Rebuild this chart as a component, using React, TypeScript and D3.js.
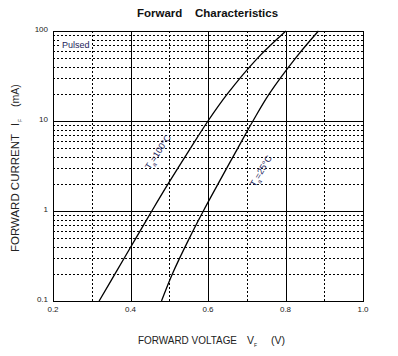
import React from "react";
import * as d3 from "d3";

const W = 398;
const H = 356;

const xTicks = [0.2, 0.4, 0.6, 0.8, 1.0];
const xMinorTicks = [0.3, 0.5, 0.7, 0.9];
const yTicks = [0.1, 1, 10, 100];
const yTickLabels = ["0.1", "1", "10", "100"];
const yMinorMultipliers = [2, 3, 4, 5, 6, 7, 8, 9];

const v100 = [0.319, 0.36, 0.414, 0.455, 0.497, 0.555, 0.6, 0.65, 0.728, 0.801];
const i100 = [0.1, 0.2, 0.5, 1, 2, 5, 10, 20, 50, 100];

const v25 = [0.48, 0.508, 0.552, 0.588, 0.626, 0.677, 0.716, 0.758, 0.826, 0.885];
const i25 = [0.1, 0.2, 0.5, 1, 2, 5, 10, 20, 50, 100];

const FONT = "'Liberation Sans', Arial, Helvetica, sans-serif";
const TEXT_COLOR = "#222";
const LABEL_COLOR = "#23235a";

export default function App() {
  const x = d3.scaleLinear().domain([0.2, 1.0]).range([53, 363]);
  const y = d3.scaleLog().domain([0.1, 100]).range([301, 31]);

  const line = d3
    .line<[number, number]>()
    .x((d) => x(d[0]))
    .y((d) => y(d[1]))
    .curve(d3.curveCatmullRom.alpha(0.5));

  const pts100 = v100.map((v, k) => [v, i100[k]] as [number, number]);
  const pts25 = v25.map((v, k) => [v, i25[k]] as [number, number]);

  const minorY: number[] = [];
  [0.1, 1, 10].forEach((dec) =>
    yMinorMultipliers.forEach((m) => minorY.push(dec * m))
  );

  const [x0, x1] = x.range();
  const [yb, yt] = y.range();

  return (
    <svg
      width={W}
      height={H}
      style={{ position: "absolute", left: 0, top: 0, background: "#fff" }}
      fontFamily={FONT}
    >
      <rect x={0} y={0} width={W} height={H} fill="#fff" />
      {/* Title */}
      <text x={137} y={17} fontSize={11.5} fontWeight="bold" fill="#111">
        Forward
      </text>
      <text x={195} y={17} fontSize={11.5} fontWeight="bold" fill="#111">
        Characteristics
      </text>

      {/* minor horizontal grid */}
      {minorY.map((v, k) => (
        <line
          key={"my" + k}
          x1={x0}
          x2={x1}
          y1={Math.round(y(v)) + 0.5}
          y2={Math.round(y(v)) + 0.5}
          stroke="#000"
          strokeWidth={1}
          strokeDasharray="2,2"
        />
      ))}
      {/* minor vertical grid */}
      {xMinorTicks.map((v, k) => (
        <line
          key={"mx" + k}
          x1={Math.round(x(v)) + 0.5}
          x2={Math.round(x(v)) + 0.5}
          y1={yt}
          y2={yb}
          stroke="#000"
          strokeWidth={1}
          strokeDasharray="2,2"
        />
      ))}

      {/* Pulsed label */}
      <rect x={60} y={38} width={32} height={12} fill="#fff" />
      <text x={62} y={48} fontSize={9} fill={LABEL_COLOR}>
        Pulsed
      </text>

      {/* major grid */}
      {xTicks.slice(1, -1).map((v, k) => (
        <line
          key={"Mx" + k}
          x1={Math.round(x(v)) + 0.5}
          x2={Math.round(x(v)) + 0.5}
          y1={yt}
          y2={yb}
          stroke="#000"
          strokeWidth={1}
        />
      ))}
      {yTicks.slice(1, -1).map((v, k) => (
        <line
          key={"My" + k}
          x1={x0}
          x2={x1}
          y1={Math.round(y(v)) + 0.5}
          y2={Math.round(y(v)) + 0.5}
          stroke="#000"
          strokeWidth={1}
        />
      ))}
      {/* frame */}
      <rect
        x={x0 + 0.5}
        y={yt + 0.5}
        width={x1 - x0}
        height={yb - yt}
        fill="none"
        stroke="#000"
        strokeWidth={1}
      />

      {/* curves */}
      <path d={line(pts100) || ""} fill="none" stroke="#000" strokeWidth={1.3} />
      <path d={line(pts25) || ""} fill="none" stroke="#000" strokeWidth={1.3} />

      {/* curve labels */}
      <g transform="translate(158,152) rotate(-57)">
        <text textAnchor="middle" fontSize={9} fill={LABEL_COLOR} y={3}>
          T<tspan fontSize={6} dy={3}>a</tspan>
          <tspan dy={-3}>=100°C</tspan>
        </text>
      </g>
      <g transform="translate(261,171) rotate(-60)">
        <text textAnchor="middle" fontSize={9} fill={LABEL_COLOR} y={3}>
          T<tspan fontSize={6} dy={3}>a</tspan>
          <tspan dy={-3}>=25°C</tspan>
        </text>
      </g>

      {/* x tick labels */}
      {xTicks.map((v, k) => (
        <text
          key={"xt" + k}
          x={x(v)}
          y={312}
          textAnchor="middle"
          fontSize={8}
          fill={TEXT_COLOR}
        >
          {v.toFixed(1)}
        </text>
      ))}
      {/* y tick labels */}
      {yTicks.map((v, k) => (
        <text
          key={"yt" + k}
          x={48}
          y={y(v) + 1}
          textAnchor="end"
          fontSize={8}
          fill={TEXT_COLOR}
        >
          {yTickLabels[k]}
        </text>
      ))}

      {/* x axis title */}
      <text
        x={138}
        y={344}
        fontSize={10.5}
        fill={TEXT_COLOR}
        textLength={99}
        lengthAdjust="spacingAndGlyphs"
      >
        FORWARD VOLTAGE
      </text>
      <text x={247} y={344} fontSize={10.5} fill={TEXT_COLOR}>
        V
      </text>
      <text x={254} y={347} fontSize={5} fill={TEXT_COLOR}>
        F
      </text>
      <text x={271} y={344} fontSize={10.5} fill={TEXT_COLOR}>
        (V)
      </text>

      {/* y axis title */}
      <g transform="translate(19,0) rotate(-90)">
        <text
          x={-252}
          y={0}
          fontSize={10.5}
          fill={TEXT_COLOR}
          textLength={118}
          lengthAdjust="spacingAndGlyphs"
        >
          FORWARD CURRENT
        </text>
        <text x={-126} y={0} fontSize={10.5} fill={TEXT_COLOR}>
          I
        </text>
        <text x={-122} y={3} fontSize={5} fill={TEXT_COLOR}>
          F
        </text>
        <text x={-107} y={0} fontSize={10.5} fill={TEXT_COLOR}>
          (mA)
        </text>
      </g>
    </svg>
  );
}
